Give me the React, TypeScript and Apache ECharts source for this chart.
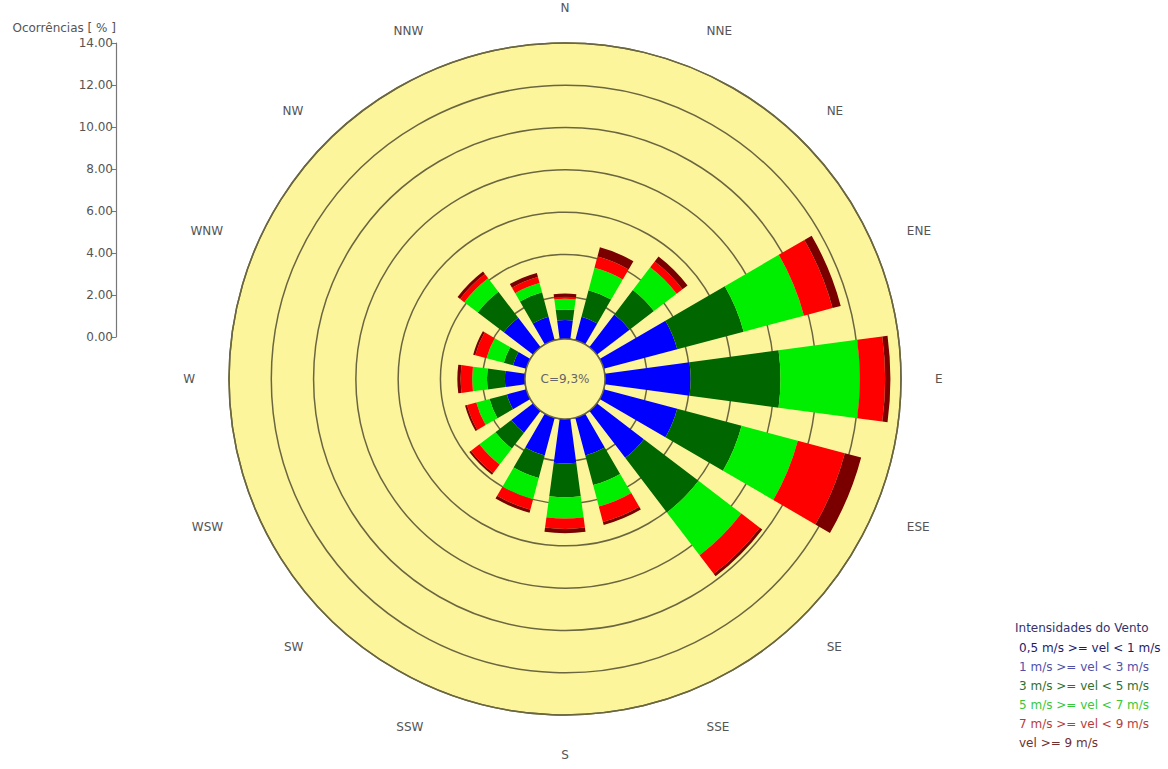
import React, { useEffect, useRef } from "react";
import * as echarts from "echarts";

// ---- data ----
const directions = ["N", "NNE", "NE", "ENE", "E", "ESE", "SE", "SSE", "S", "SSW", "SW", "WSW", "W", "WNW", "NW", "NNW"];
const vel05to1 = [0, 0, 0, 0, 0, 0, 0, 0, 0, 0, 0, 0, 0, 0, 0, 0];
const vel1to3 = [0.9, 1.15, 1.95, 3.6, 4.05, 3.6, 2.8, 1.85, 2.1, 1.85, 1.3, 0.95, 0.95, 0.65, 1.75, 1.15];
const vel3to5 = [0.5, 1.3, 1.45, 3.25, 4.25, 3.15, 3.25, 1.45, 1.6, 1.1, 0.95, 0.85, 0.85, 0.45, 1.55, 1.2];
const vel5to7 = [0.5, 1.1, 1.35, 2.95, 3.75, 2.75, 2.55, 1.05, 1.0, 1.05, 0.95, 0.65, 0.7, 0.85, 0.8, 0.45];
const vel7to9 = [0.1, 0.55, 0.35, 1.4, 1.2, 2.3, 1.1, 0.75, 0.5, 0.5, 0.5, 0.45, 0.55, 0.55, 0.25, 0.3];
const vel9plus = [0.15, 0.45, 0.3, 0.4, 0.25, 0.8, 0.15, 0.15, 0.2, 0.15, 0.1, 0.1, 0.15, 0.1, 0.15, 0.2];
const calmLabel = "C=9,3%";
const axisTitle = "Ocorrências [ % ]";
const legendTitle = "Intensidades do Vento";
const classLabels = [
  "0,5 m/s >= vel < 1 m/s",
  "1 m/s >= vel < 3 m/s",
  "3 m/s >= vel < 5 m/s",
  "5 m/s >= vel < 7 m/s",
  "7 m/s >= vel < 9 m/s",
  "vel >= 9 m/s",
];

// ---- styles ----
const FONT = "DejaVu Sans";
const YELLOW = "#fdf59c";
const RING = "#6a6640";
const barColors = ["#000080", "#0000ff", "#006600", "#00ee00", "#ff0000", "#7a0000"];
const legendTextColors = ["#1c1c6a", "#5050a8", "#2f6f2f", "#38c838", "#b83c3c", "#6e3030"];
const CX = 565;
const CY = 379;
const R_IN = 40;
const R_OUT = 336;

export default function App() {
  const ref = useRef<HTMLDivElement>(null);

  useEffect(() => {
    if (!ref.current) return;
    const chart = echarts.init(ref.current, undefined, { renderer: "svg" });
    const classData = [vel05to1, vel1to3, vel3to5, vel5to7, vel7to9, vel9plus];

    const series: any[] = classData.map((d, i) => ({
      type: "bar",
      name: classLabels[i],
      coordinateSystem: "polar",
      stack: "wind",
      data: d,
      barCategoryGap: "32%",
      itemStyle: { color: barColors[i] },
      z: 3,
    }));

    const legendGraphics: any[] = [
      {
        type: "text",
        x: 1015,
        y: 628,
        style: { text: legendTitle, fill: "#33336e", font: `12px "${FONT}"`, verticalAlign: "middle" },
      },
      ...classLabels.map((t, i) => ({
        type: "text",
        x: 1019,
        y: 648 + i * 19,
        style: { text: t, fill: legendTextColors[i], font: `12px "${FONT}"`, verticalAlign: "middle" },
      })),
    ];

    chart.setOption({
      animation: false,
      backgroundColor: "#ffffff",
      textStyle: { fontFamily: FONT },
      polar: { center: [CX, CY], radius: [R_IN, R_OUT] },
      angleAxis: {
        type: "category",
        data: directions,
        startAngle: 90 + 11.25,
        clockwise: true,
        boundaryGap: true,
        axisLine: { show: true, lineStyle: { color: RING, width: 1.5 } },
        axisTick: { show: false },
        splitLine: { show: false },
        axisLabel: {
          margin: 34,
          color: "#555",
          fontSize: 12,
          fontFamily: FONT,
          formatter: (v: string) => (v === "N" ? "{n|N}" : v),
          rich: { n: { lineHeight: 2, fontSize: 12, color: "#555", fontFamily: FONT } },
        },
        z: 2,
      },
      radiusAxis: {
        type: "value",
        min: 0,
        max: 14,
        interval: 2,
        axisLine: { show: false },
        axisTick: { show: false },
        axisLabel: { show: false },
        splitLine: { show: true, lineStyle: { color: RING, width: 1.5 } },
        splitArea: { show: false },
        z: 2,
      },
      grid: { left: 116, top: 43, width: 1, height: 294 },
      xAxis: { type: "value", show: false, min: 0, max: 1 },
      yAxis: {
        type: "value",
        min: 0,
        max: 14,
        interval: 2,
        position: "left",
        axisLine: { show: true, lineStyle: { color: "#777", width: 1.2 } },
        axisTick: { show: true, length: 4, lineStyle: { color: "#777" } },
        axisLabel: {
          color: "#555",
          fontSize: 12,
          fontFamily: FONT,
          margin: 3,
          formatter: (v: number) => v.toFixed(2),
        },
        splitLine: { show: false },
        name: axisTitle,
        nameLocation: "end",
        nameGap: 9,
        nameTextStyle: { align: "right", color: "#555", fontSize: 12, fontFamily: FONT },
      },
      graphic: [
        {
          type: "circle",
          shape: { cx: CX, cy: CY, r: R_OUT },
          style: { fill: YELLOW },
          z: -10,
        },
        {
          type: "circle",
          shape: { cx: CX, cy: CY, r: R_IN },
          style: { fill: YELLOW, stroke: RING, lineWidth: 1.5 },
          z: 5,
        },
        {
          type: "text",
          x: CX,
          y: CY,
          style: { text: calmLabel, fill: "#666", font: `12px "${FONT}"`, align: "center", verticalAlign: "middle" },
          z: 6,
        },
        ...legendGraphics,
      ],
      series,
    });

    return () => chart.dispose();
  }, []);

  return (
    <div
      ref={ref}
      style={{ position: "fixed", left: 0, top: 0, width: 1168, height: 769, background: "#fff" }}
    />
  );
}
